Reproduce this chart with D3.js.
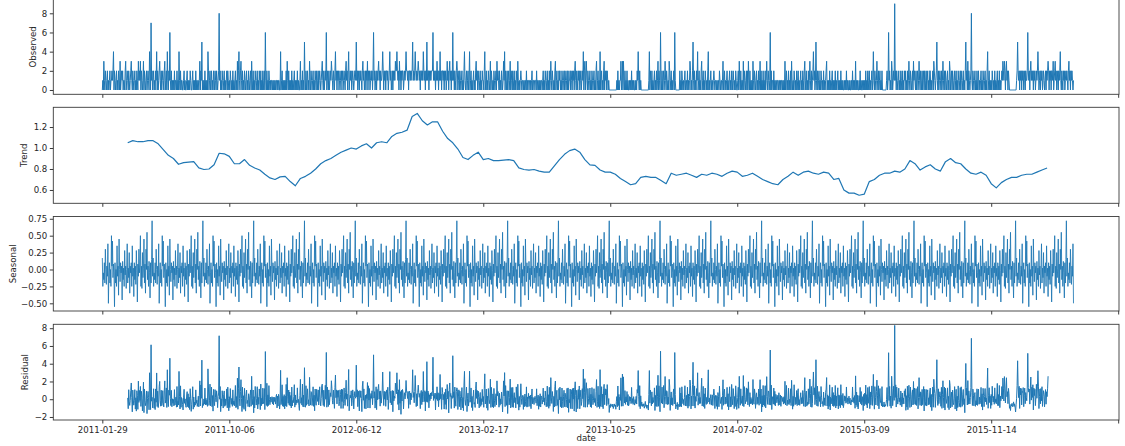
<!DOCTYPE html>
<html><head><meta charset="utf-8">
<script src="https://cdn.jsdelivr.net/npm/d3@7/dist/d3.min.js"></script>
<style>
body{margin:0;background:#fff;}
svg{display:block;font-family:"DejaVu Sans",sans-serif;}
</style></head>
<body>
<svg id="chart" width="1125" height="446"></svg>
<script>
// ---------------- DATA ----------------
// x tick positions (day index) and their date labels
const tickIndex = [0, 250, 500, 750, 1000, 1250, 1500, 1750, 2000];
const tickLabels = ["2011-01-29","2011-10-06","2012-06-12","2013-02-17","2013-10-25","2014-07-02","2015-03-09","2015-11-14",""];

// Observed daily counts (1913 days), one digit per day, groups of 10 days
const observedText = [
"0103102101 2010120112 1240210120 1021030121 2011023012",
"1021012310 2101201021 0312130210 1302101201 2104207120",
"1201021402 0123102012 1023012041 0216102010 1020110201",
"0410201100 1201001201 0102100120 1010201011 0130215010",
"1020101042 0120120102 1021021012 8120102101 2010120210",
"1021010201 0120103024 1023102010 2101201021 0120310201",
"0210120102 1020102012 0610201021 0101101010 1011010110",
"0401201010 1020310201 0102010120 1010201001 3010201051",
"0201201031 0210120102 1021020121 0123102012 1602102012",
"1321021024 1202120121 0212012102 3120240121 2012101221",
"5120210212 1023120120 2130212012 1202612012 0212312021",
"1242021202 2120124120 1202121322 4212031202 1220121242",
"2120221212 2512124212 1232120221 2142120215 1220212122",
"2612120213 1202141202 2120212013 1202312021 6120210232",
"0120210120 1024101201 2014012010 1201023120 2101201021",
"1024012010 2101302101 0210120312 1020102101 3140210201",
"2013021020 1201021031 0101210110 1011020101 1101012011",
"0111020110 1010110120 1021012010 2013102101 0230120102",
"1201021012 0210120201 1202102120 2310210212 0120121402",
"3023102101 2010210120 1023012010 4012010230 2120210100",
"0000000000 0001020101 1301303102 0102010010 1020101001",
"0102141020 1000000000 0000001402 1020101201 0201302106",
"1020120131 0210103201 2010120610 0000000201 0210101201",
"1020101320 1025102010 2140120102 3012010210 1024010120",
"1101210110 1011021011 0130120101 2010120102 1021010210",
"0120310201 1030210120 2031020101 0310210120 1020130201",
"0201020131 0210160201 1020101101 1011010110 1010301201",
"0201020310 1021010201 2010120102 1023012010 2013102012",
"4120151020 1201021010 2010123010 1020101201 0102010120",
"1010201010 0101020100 1010010201 0103010100 1020100101",
"0102010201 2010120141 0210131020 1201020000 0000120161",
"2010320121 9120210120 1021020102 1201020131 0210120312",
"1020120131 0210201202 1020120102 2010120321 0125102012",
"1020131020 2101201032 0120210120 1201021012 0210120102",
"5120302101 2810210120 1020120101 2010210120 1024012010",
"1021010201 0120102010 1213213202 3120210000 0000000000",
"1252120212 0212012021 1262120231 2120212012 1242012021",
"2012101202 1232021202 2130123120 1202124102 1021201212",
"1023120212 101"
];

// Trend (centred 100-day moving average), one value every 10 days from day 50
const trendStart = 50;
const trendStep = 10;
const trendValues = [
1.05,1.07,1.06,1.06,1.07,1.07,1.04,0.985,0.93,0.90,
0.845,0.86,0.865,0.87,0.81,0.795,0.80,0.84,0.95,0.945,
0.92,0.85,0.85,0.89,0.835,0.81,0.79,0.75,0.715,0.70,
0.725,0.73,0.68,0.64,0.71,0.73,0.76,0.80,0.85,0.88,
0.90,0.93,0.96,0.98,1.00,0.99,1.02,1.04,1.00,1.05,
1.06,1.05,1.11,1.14,1.15,1.17,1.30,1.33,1.26,1.22,
1.25,1.25,1.16,1.09,1.05,0.99,0.91,0.89,0.93,0.96,
0.89,0.90,0.88,0.88,0.885,0.89,0.88,0.81,0.795,0.79,
0.795,0.78,0.77,0.77,0.83,0.89,0.94,0.975,0.99,0.96,
0.89,0.84,0.835,0.79,0.77,0.77,0.75,0.71,0.68,0.65,
0.66,0.72,0.73,0.72,0.72,0.69,0.66,0.76,0.74,0.75,
0.76,0.74,0.72,0.75,0.74,0.76,0.75,0.73,0.76,0.78,
0.77,0.73,0.74,0.76,0.73,0.70,0.68,0.66,0.65,0.70,
0.73,0.77,0.74,0.77,0.78,0.76,0.75,0.77,0.76,0.70,
0.71,0.60,0.57,0.57,0.55,0.56,0.68,0.70,0.74,0.76,
0.76,0.78,0.77,0.80,0.88,0.85,0.79,0.82,0.84,0.80,
0.78,0.87,0.90,0.86,0.85,0.80,0.76,0.75,0.77,0.74,
0.66,0.62,0.67,0.70,0.72,0.72,0.74,0.75,0.75,0.77,
0.79,0.81
];

// Seasonal component: one 100-day cycle
const seasonalCycle = [
0.17,-0.25,-0.05,-0.15,0.1,-0.2,0.3,0.0,-0.22,0.05,
-0.1,0.38,-0.5,-0.05,0.1,-0.2,0.0,-0.25,0.5,0.05,
0.42,-0.12,0.08,-0.05,-0.55,0.1,-0.2,0.0,-0.25,0.35,
-0.1,0.05,-0.38,0.45,0.0,-0.18,0.1,-0.05,0.05,-0.45,
0.12,-0.15,0.02,-0.25,0.28,-0.08,0.05,-0.28,0.0,0.38,
-0.2,0.02,-0.12,0.25,-0.35,0.05,-0.05,0.1,-0.25,0.35,
-0.1,0.02,-0.4,0.1,-0.15,0.05,-0.22,0.28,-0.02,-0.48,
0.08,-0.1,0.3,-0.05,0.08,0.5,-0.25,0.05,-0.28,0.25,
-0.12,0.02,0.45,-0.2,0.08,-0.35,0.3,0.0,0.55,-0.15,
0.05,-0.25,0.12,-0.05,-0.42,0.1,-0.2,0.15,0.72,-0.1
];

// y ticks per panel
const observedTicks = [0, 2, 4, 6, 8];
const trendTicks = [0.6, 0.8, 1.0, 1.2];
const seasonalTicks = [-0.5, -0.25, 0, 0.25, 0.5, 0.75];
const residualTicks = [-2, 0, 2, 4, 6, 8];

// ---------------- DERIVED SERIES ----------------
const observed = observedText.join("").replace(/\s/g, "").split("").map(Number);
const N = observed.length;
const obsPts = observed.map((v, i) => [i, v]);
const trendPts = trendValues.map((v, k) => [trendStart + k * trendStep, v]);
const seasonalPts = observed.map((_, i) => [i, seasonalCycle[i % seasonalCycle.length]]);
const trendEnd = trendStart + (trendValues.length - 1) * trendStep;
const residPts = [];
for (let i = trendStart; i <= trendEnd + 2 && i < N; i++) {
  const k = Math.min(trendValues.length - 1, Math.round((i - trendStart) / trendStep));
  residPts.push([i, observed[i] - trendValues[k] - seasonalCycle[i % seasonalCycle.length]]);
}

// ---------------- LAYOUT ----------------
const svg = d3.select("#chart");
const W = 1125, H = 446;
svg.append("rect").attr("width", W).attr("height", H).attr("fill", "#fff");
const left = 53.3, right = 1119;
const x = d3.scaleLinear().domain([-96.5, 2001.6]).range([left, right]);
const color = "#1f77b4";
const fontSize = 8.6;
const textColor = "#262626";
const spineColor = "#3a3a3a";

const panels = [
  {name:"Observed", pts: obsPts, top:-0.6, bottom:94.3, dom:[-0.45, 9.45], ticks: observedTicks, fmt: d3.format("d"), labelX: 32.7, sw: 1.0},
  {name:"Trend", pts: trendPts, top:107.3, bottom:203.3, dom:[0.473, 1.388], ticks: trendTicks, fmt: d3.format(".1f"), labelX: 24, sw: 1.2},
  {name:"Seasonal", pts: seasonalPts, top:216.5, bottom:311, dom:[-0.6135, 0.7835], ticks: seasonalTicks, fmt: d3.format(".2f"), labelX: 13.3, sw: 0.85},
  {name:"Residual", pts: residPts, top:324.3, bottom:420, dom:[-2.34, 8.44], ticks: residualTicks, fmt: d3.format("d"), labelX: 25, sw: 1.0}
];

panels.forEach((p, pi) => {
  const y = d3.scaleLinear().domain(p.dom).range([p.bottom, p.top]);
  const g = svg.append("g");
  const clipId = "clip" + pi;
  svg.append("clipPath").attr("id", clipId).append("rect")
    .attr("x", left).attr("y", p.top).attr("width", right - left).attr("height", p.bottom - p.top);

  const line = d3.line().x(d => x(d[0])).y(d => y(d[1]));
  g.append("path").datum(p.pts)
    .attr("clip-path", `url(#${clipId})`)
    .attr("d", line).attr("fill", "none").attr("stroke", color)
    .attr("stroke-width", p.sw).attr("stroke-linejoin", "round");

  // y axis
  const ya = g.append("g").attr("transform", `translate(${left},0)`)
    .call(d3.axisLeft(y).tickValues(p.ticks).tickFormat(p.fmt).tickSize(3.5).tickPadding(2.5));
  ya.select(".domain").remove();
  ya.selectAll("line").attr("stroke", spineColor);
  ya.selectAll("text").attr("fill", textColor).style("font-size", fontSize + "px").style("font-family", "DejaVu Sans");

  // x axis
  const isLast = pi === panels.length - 1;
  const xa = g.append("g").attr("transform", `translate(0,${p.bottom})`)
    .call(d3.axisBottom(x).tickValues(tickIndex)
      .tickFormat((d, i) => isLast ? tickLabels[i] : "").tickSize(3.5).tickPadding(3.5));
  xa.select(".domain").remove();
  xa.selectAll("line").attr("stroke", spineColor);
  xa.selectAll("text").attr("fill", textColor).style("font-size", fontSize + "px").style("font-family", "DejaVu Sans");

  // spines
  g.append("rect").attr("x", left).attr("y", p.top).attr("width", right - left).attr("height", p.bottom - p.top)
    .attr("fill", "none").attr("stroke", spineColor).attr("stroke-width", 0.9);

  // y label
  g.append("text").attr("transform", `translate(${p.labelX},${(p.top + p.bottom) / 2}) rotate(-90)`)
    .attr("text-anchor", "middle").attr("dominant-baseline", "central")
    .attr("fill", textColor).style("font-size", fontSize + "px").text(p.name);
});

svg.append("text").attr("x", (left + right) / 2).attr("y", 441)
  .attr("text-anchor", "middle").attr("fill", textColor).style("font-size", fontSize + "px").text("date");
</script>
</body></html>
